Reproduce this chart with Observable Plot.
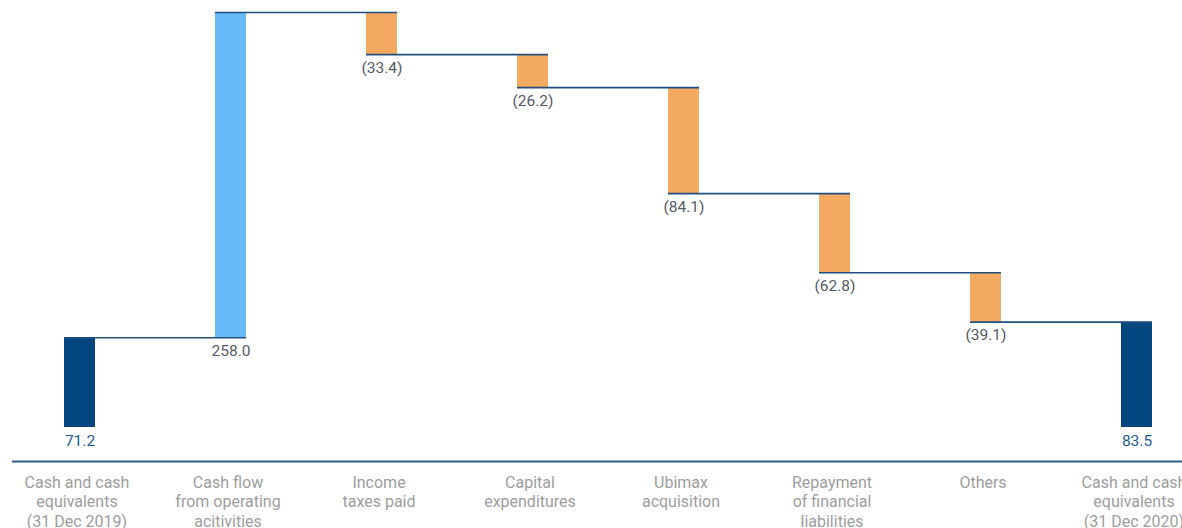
<!DOCTYPE html>
<html><head><meta charset="utf-8">
<script src="https://cdn.jsdelivr.net/npm/d3@7"></script>
<script src="https://cdn.jsdelivr.net/npm/@observablehq/plot@0.6"></script>
<style>
html,body{margin:0;padding:0;background:#fff;overflow:hidden;width:1182px;height:528px}
svg{max-width:none !important;}
</style>
</head><body><div id="chart"></div>
<script>
const categories = [
  "Cash and cash\nequivalents\n(31 Dec 2019)",
  "Cash flow\nfrom operating\nacitivities",
  "Income\ntaxes paid",
  "Capital\nexpenditures",
  "Ubimax\nacquisition",
  "Repayment\nof financial\nliabilities",
  "Others",
  "Cash and cash\nequivalents\n(31 Dec 2020)"
];
const values = [71.2, 258.0, -33.4, -26.2, -84.1, -62.8, -39.1, 83.5];
const kinds = ["total", "increase", "decrease", "decrease", "decrease", "decrease", "decrease", "total"];
const valueLabels = ["71.2", "258.0", "(33.4)", "(26.2)", "(84.1)", "(62.8)", "(39.1)", "83.5"];

const colors = {total: "#02467f", increase: "#67bcf8", decrease: "#f4a960"};
const labelColors = {total: "#1f5b93", increase: "#535b64", decrease: "#535b64"};

let running = 0;
const rows = categories.map((c, i) => {
  const v = values[i], k = kinds[i];
  let y1, y2;
  if (k === "total") { y1 = 0; y2 = v; }
  else { y1 = running; y2 = running + v; }
  running = y2;
  return {cat: c, y1, y2, low: Math.min(y1, y2), kind: k, label: valueLabels[i]};
});
const links = rows.slice(0, -1).map((r, i) => ({from: r.cat, to: rows[i + 1].cat, level: r.y2}));

const chart = Plot.plot({
  width: 1214, height: 528,
  marginLeft: 2, marginRight: 0, marginTop: 12, marginBottom: 101,
  style: {fontFamily: "Roboto, sans-serif", fontSize: "16px", background: "#fff", maxWidth: "none"},
  x: {domain: categories, paddingInner: 0.795, paddingOuter: 0.3975},
  y: {domain: [0, 329.2], axis: null},
  marks: [
    Plot.barY(rows, {x: "cat", y1: "y1", y2: "y2", fill: d => colors[d.kind]}),
    Plot.ruleY(links, {x1: "from", x2: "to", y: "level", stroke: "#1f4e7f", strokeWidth: 1.6}),
    Plot.ruleY([0], {dy: 34, insetLeft: 10, stroke: "#2e5e8e", strokeWidth: 2}),
    Plot.text(rows, {x: "cat", y: "low", text: "label", lineAnchor: "top", dy: 7, fill: d => labelColors[d.kind], fontSize: 15.5}),
    Plot.axisX({tickSize: 0, tickPadding: 47, dx: -3, fontSize: 16, lineHeight: 1.2, fill: "#9d9d9d"})
  ]
});
document.getElementById("chart").appendChild(chart);
</script>
</body></html>
